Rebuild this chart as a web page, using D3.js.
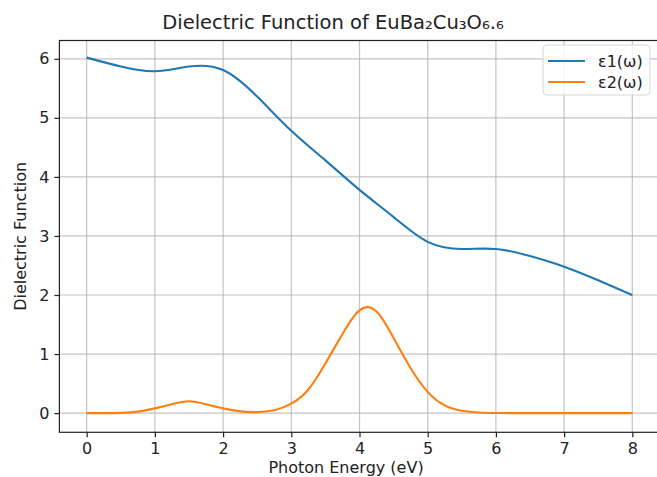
<!DOCTYPE html>
<html>
<head>
<meta charset="utf-8">
<script src="https://cdn.jsdelivr.net/npm/d3@7"></script>
<style>
  body { margin: 0; background: #fff; }
  svg { display: block; font-family: "DejaVu Sans", sans-serif; }
</style>
</head>
<body>
<svg id="chart" width="657" height="477"></svg>
<script>
// values
var energyE1 = [0, 0.5, 1, 1.5, 2, 2.5, 3, 3.5, 4, 4.5, 5, 5.5, 6, 6.5, 7, 7.5, 8];
var eps1 = [6.02, 5.87, 5.79, 5.87, 5.81, 5.36, 4.78, 4.28, 3.78, 3.32, 2.9, 2.78, 2.78, 2.66, 2.48, 2.25, 2.0];

var energyE2 = [0, 0.25, 0.5, 0.75, 1, 1.25, 1.5, 1.75, 2, 2.25, 2.5, 2.75, 3, 3.25, 3.5, 3.75, 4, 4.25, 4.5, 4.75, 5, 5.25, 5.5, 5.75, 6, 6.25, 6.5, 6.75, 7, 7.5, 8];
var eps2 = [0, 0, 0.004, 0.025, 0.08, 0.15, 0.2, 0.15, 0.08, 0.03, 0.018, 0.05, 0.16, 0.4, 0.84, 1.34, 1.74, 1.72, 1.27, 0.76, 0.36, 0.13, 0.04, 0.01, 0.002, 0, 0, 0, 0, 0, 0];

var xTicks = [0, 1, 2, 3, 4, 5, 6, 7, 8];
var yTicks = [0, 1, 2, 3, 4, 5, 6];
var seriesNames = ['\u03b51(\u03c9)', '\u03b52(\u03c9)'];
var colours = ['#1f77b4', '#ff7f0e'];

// plot box (window.top is read-only, so no "top" here)
var box = { left: 59.4, right: 659.6, top: 40.5, bottom: 432.3 };

var svg = d3.select('#chart');

var x = d3.scaleLinear().domain([-0.4, 8.4]).range([box.left, box.right]);
var y = d3.scaleLinear().domain([-0.325, 6.31]).range([box.bottom, box.top]);

// grid
svg.append('g')
   .selectAll('line')
   .data(xTicks)
   .enter().append('line')
     .attr('x1', function(d) { return x(d); })
     .attr('x2', function(d) { return x(d); })
     .attr('y1', box.top).attr('y2', box.bottom)
     .attr('stroke', '#b0b0b0').attr('stroke-opacity', 0.75).attr('stroke-width', 1.2);

svg.append('g')
   .selectAll('line')
   .data(yTicks)
   .enter().append('line')
     .attr('y1', function(d) { return y(d); })
     .attr('y2', function(d) { return y(d); })
     .attr('x1', box.left).attr('x2', box.right)
     .attr('stroke', '#b0b0b0').attr('stroke-opacity', 0.75).attr('stroke-width', 1.2);

// curves
var data1 = energyE1.map(function(e, i) { return [e, eps1[i]]; });
var data2 = energyE2.map(function(e, i) { return [e, eps2[i]]; });

var line = d3.line()
             .x(function(d) { return x(d[0]); })
             .y(function(d) { return y(d[1]); })
             .curve(d3.curveNatural);

[data1, data2].forEach(function(d, i) {
  svg.append('path')
     .datum(d)
     .attr('fill', 'none')
     .attr('stroke', colours[i])
     .attr('stroke-width', 2.1)
     .attr('stroke-linejoin', 'round')
     .attr('d', line);
});

// axes
var xAxis = d3.axisBottom(x).tickValues(xTicks).tickFormat(d3.format('d'))
              .tickSize(5).tickPadding(5).tickSizeOuter(0);
var yAxis = d3.axisLeft(y).tickValues(yTicks).tickFormat(d3.format('d'))
              .tickSize(5).tickPadding(5).tickSizeOuter(0);

svg.append('g')
   .attr('transform', 'translate(0,' + box.bottom + ')')
   .call(xAxis);

svg.append('g')
   .attr('transform', 'translate(' + box.left + ',0)')
   .call(yAxis);

svg.selectAll('.domain').remove();
svg.selectAll('.tick line').attr('stroke', '#222').attr('stroke-width', 1.2);
svg.selectAll('.tick text')
   .attr('fill', '#222')
   .style('font-size', '16px')
   .style('font-family', '"DejaVu Sans", sans-serif');

// frame
svg.append('rect')
   .attr('x', box.left).attr('y', box.top)
   .attr('width', box.right - box.left).attr('height', box.bottom - box.top)
   .attr('fill', 'none')
   .attr('stroke', '#222').attr('stroke-width', 1.2);

// labels
svg.append('text')
   .attr('x', 333).attr('y', 29)
   .attr('text-anchor', 'middle')
   .attr('fill', '#222')
   .style('font-size', '19.5px')
   .text('Dielectric Function of EuBa\u2082Cu\u2083O\u2086.\u2086');

svg.append('text')
   .attr('x', 346).attr('y', 473)
   .attr('text-anchor', 'middle')
   .attr('fill', '#222')
   .style('font-size', '16px')
   .text('Photon Energy (eV)');

svg.append('text')
   .attr('transform', 'translate(26,' + ((box.top + box.bottom) / 2) + ') rotate(-90)')
   .attr('text-anchor', 'middle')
   .attr('fill', '#222')
   .style('font-size', '16px')
   .text('Dielectric Function');

// legend
var legend = svg.append('g').attr('transform', 'translate(543,45)');

legend.append('rect')
      .attr('width', 107).attr('height', 50)
      .attr('rx', 4)
      .attr('fill', '#fff').attr('fill-opacity', 0.8)
      .attr('stroke', '#d8d8d8');

seriesNames.forEach(function(name, i) {
  var row = legend.append('g').attr('transform', 'translate(0,' + (16 + i * 21) + ')');
  row.append('line')
     .attr('x1', 5).attr('x2', 42)
     .attr('stroke', colours[i]).attr('stroke-width', 2.1);
  row.append('text')
     .attr('x', 55).attr('y', 6)
     .attr('fill', '#222')
     .style('font-size', '16px')
     .text(name);
});
</script>
</body>
</html>
